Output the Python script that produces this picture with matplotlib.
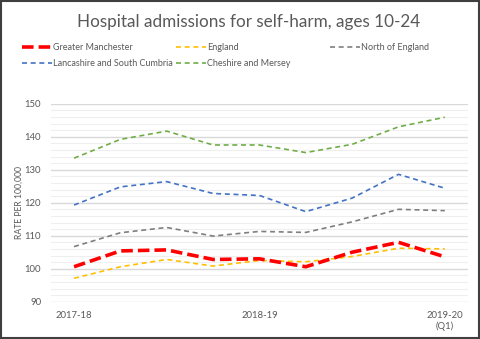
import matplotlib.pyplot as plt
from matplotlib.lines import Line2D
from matplotlib.patches import Rectangle
from matplotlib.ticker import MultipleLocator

plt.rcParams['font.family'] = ['Lato', 'DejaVu Sans']

# Quarterly rates, 2017-18 Q1 to 2019-20 Q1
quarters = ['2017-18', '', '', '', '2018-19', '', '', '', '2019-20\n(Q1)']
greater_manchester = [100.6, 105.4, 105.7, 102.8, 103.0, 100.6, 105.0, 108.0, 103.6]
england = [97.1, 100.6, 102.8, 100.8, 102.5, 102.1, 103.7, 106.2, 106.0]
north_england = [106.7, 110.9, 112.5, 109.9, 111.3, 111.0, 114.2, 118.0, 117.6]
lancs_cumbria = [119.3, 124.8, 126.4, 122.8, 122.2, 117.3, 121.4, 128.6, 124.4]
cheshire_mersey = [133.5, 139.2, 141.7, 137.5, 137.5, 135.2, 137.7, 143.0, 145.9]

txt = '#595959'

fig = plt.figure(figsize=(4.8, 3.39), dpi=100)
ax = fig.add_axes([0.106, 0.110, 0.869, 0.584])

x = range(len(quarters))
thin = dict(linewidth=1.2, dashes=(3.0, 2.2))
series = [
    (greater_manchester, 'Greater Manchester', '#FF0000', dict(linewidth=2.6, dashes=(3.2, 1.4))),
    (england, 'England', '#FFC000', thin),
    (north_england, 'North of England', '#7F7F7F', thin),
    (lancs_cumbria, 'Lancashire and South Cumbria', '#4472C4', thin),
    (cheshire_mersey, 'Cheshire and Mersey', '#70AD47', thin),
]
handles = {}
# draw the red series last so it sits on top
for vals, name, col, style in series[1:] + series[:1]:
    ln, = ax.plot(x, vals, color=col, zorder=3, **style)
    handles[name] = ln

ax.set_xlim(-0.5, len(quarters) - 0.5)
ax.set_ylim(90, 150)
ax.yaxis.set_major_locator(MultipleLocator(10))
ax.yaxis.set_minor_locator(MultipleLocator(2))
ax.grid(which='major', axis='y', color='#D9D9D9', linewidth=1.0)
ax.grid(which='minor', axis='y', color='#EFEFEF', linewidth=0.8)
ax.set_axisbelow(True)
for s in ax.spines.values():
    s.set_visible(False)
ax.set_xticks(list(x))
ax.set_xticklabels(quarters)
ax.tick_params(which='both', length=0, colors=txt, labelsize=6.8)
ax.tick_params(axis='x', pad=7)
ax.tick_params(axis='y', pad=7)
ax.set_ylabel('RATE PER 100,000', color=txt, fontsize=6.2, labelpad=1)

fig.text(0.517, 0.935, 'Hospital admissions for self-harm, ages 10-24',
         ha='center', va='center', fontsize=12.3, color=txt)

# legend laid out as a grid of equal-width columns
cols = [['Greater Manchester', 'Lancashire and South Cumbria'],
        ['England', 'Cheshire and Mersey'],
        ['North of England']]
for i, names in enumerate(cols):
    hs = [Line2D([], [], color=handles[n].get_color(),
                 linewidth=handles[n].get_linewidth(),
                 dashes=(3.2, 1.4) if n == 'Greater Manchester' else (3.0, 2.2))
          for n in names]
    leg = fig.legend(hs, names, loc='upper left',
                     bbox_to_anchor=(0.046 + i * 0.321, 0.874),
                     frameon=False, fontsize=6.5, handlelength=3.3,
                     handletextpad=0.15, labelspacing=0.85,
                     borderpad=0, borderaxespad=0)
    for t in leg.get_texts():
        t.set_color(txt)

fig.patches.append(Rectangle((0.002, 0.003), 0.996, 0.994, transform=fig.transFigure,
                             fill=False, edgecolor='#3F3F3F', linewidth=1.5))

fig.savefig('out.png', dpi=100)
